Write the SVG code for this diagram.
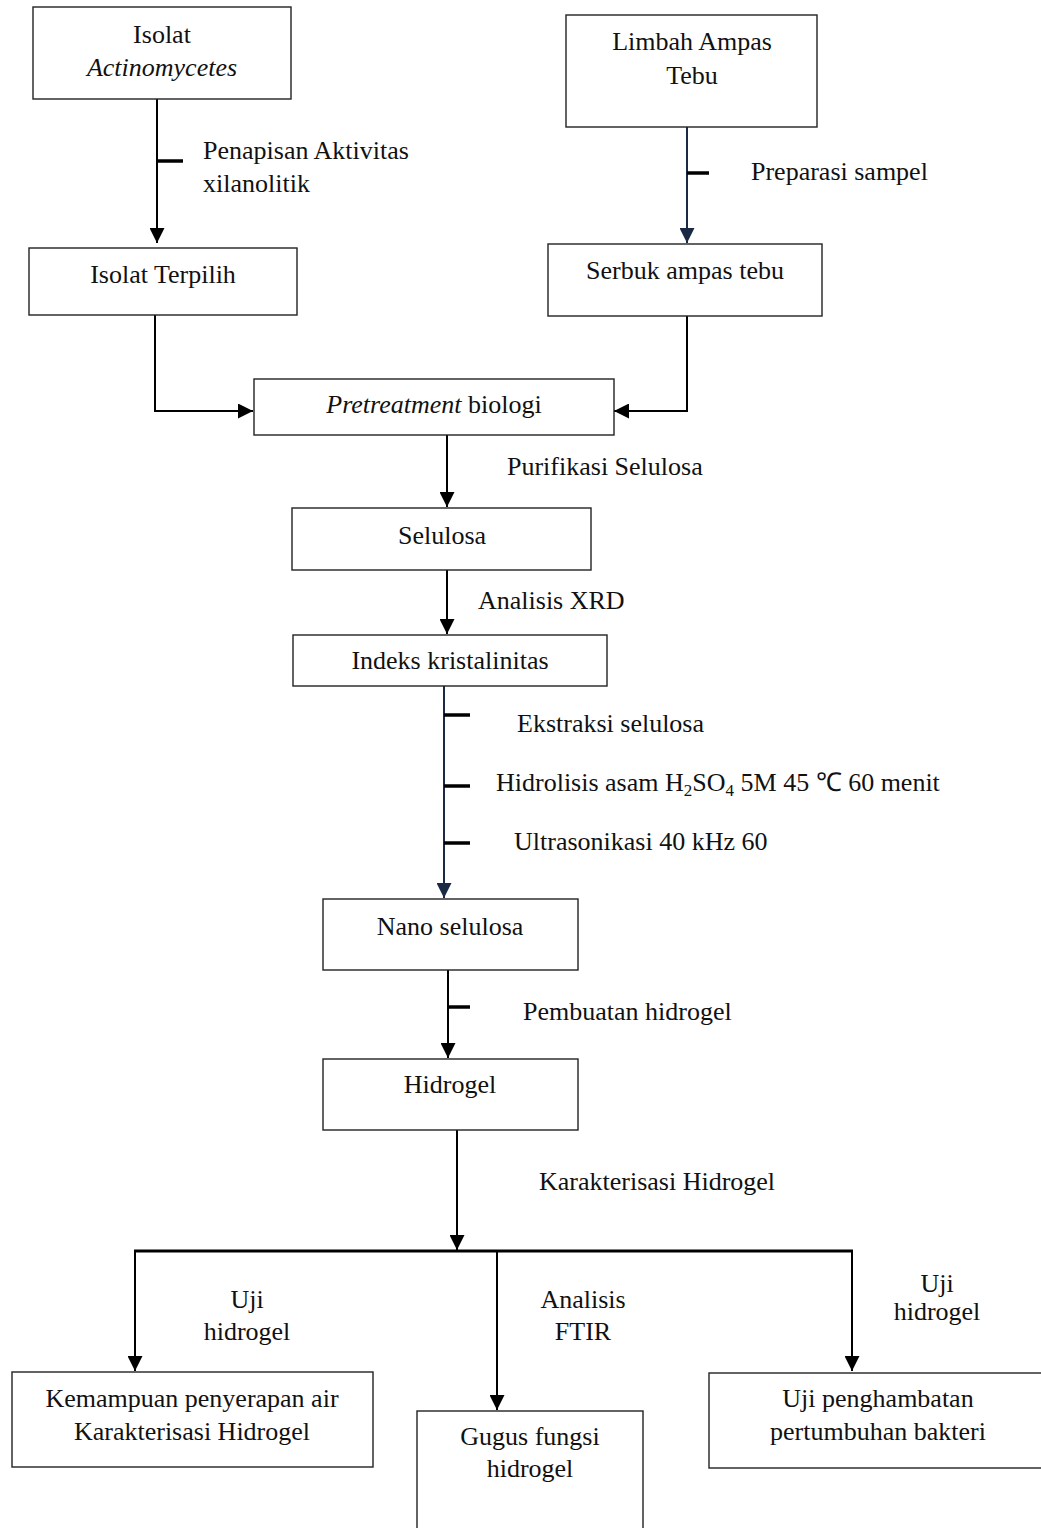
<svg xmlns="http://www.w3.org/2000/svg" width="1041" height="1528" viewBox="0 0 1041 1528">
<style>
.box{fill:#fff;stroke:#222;stroke-width:1.4}
.t{font-family:"Liberation Serif","Times New Roman",serif;font-size:26px;fill:#111}
.c{text-anchor:middle}
.ln{fill:none;stroke:#000;stroke-width:2}
.nv{fill:none;stroke:#1b2a44;stroke-width:2}
.tk{stroke:#000;stroke-width:3.5}
.ar{marker-end:url(#ah)}
.arn{marker-end:url(#ahn)}
</style>
<defs>
<marker id="ah" viewBox="0 0 15 15" refX="15" refY="7.5" markerWidth="15" markerHeight="15" markerUnits="userSpaceOnUse" orient="auto"><path d="M0,0 L15,7.5 L0,15 z" fill="#000"/></marker>
<marker id="ahn" viewBox="0 0 15 15" refX="15" refY="7.5" markerWidth="15" markerHeight="15" markerUnits="userSpaceOnUse" orient="auto"><path d="M0,0 L15,7.5 L0,15 z" fill="#1b2a44"/></marker>
</defs>
<rect width="1041" height="1528" fill="#fff"/>
<g id="connectors">
<line class="ln ar" x1="157" y1="99" x2="157" y2="243"/>
<line class="tk" x1="157" y1="161" x2="183" y2="161"/>
<line class="nv arn" x1="687" y1="127" x2="687" y2="243"/>
<line class="tk" x1="687" y1="173" x2="709" y2="173"/>
<polyline class="ln ar" points="155,315 155,411 253,411"/>
<polyline class="ln ar" points="687,316 687,411 614,411"/>
<line class="ln ar" x1="447" y1="435" x2="447" y2="507"/>
<line class="ln ar" x1="447" y1="570" x2="447" y2="634"/>
<line class="nv arn" x1="444" y1="686" x2="444" y2="898"/>
<line class="tk" x1="444" y1="715" x2="470" y2="715"/>
<line class="tk" x1="444" y1="786" x2="470" y2="786"/>
<line class="tk" x1="444" y1="843" x2="470" y2="843"/>
<line class="ln ar" x1="448" y1="970" x2="448" y2="1058"/>
<line class="tk" x1="448" y1="1007" x2="470" y2="1007"/>
<line class="ln ar" x1="457" y1="1130" x2="457" y2="1250"/>
<line x1="134" y1="1251" x2="853" y2="1251" stroke="#000" stroke-width="3"/>
<line class="ln ar" x1="135" y1="1251" x2="135" y2="1371"/>
<line class="ln ar" x1="497" y1="1252" x2="497" y2="1410"/>
<line class="ln ar" x1="852" y1="1251" x2="852" y2="1371"/>
</g>
<g id="labels">
<text class="t" x="203" y="159">Penapisan Aktivitas</text>
<text class="t" x="203" y="192">xilanolitik</text>
<text class="t" x="751" y="180">Preparasi sampel</text>
<text class="t" x="507" y="475">Purifikasi Selulosa</text>
<text class="t" x="478" y="609">Analisis XRD</text>
<text class="t" x="517" y="732">Ekstraksi selulosa</text>
<text class="t" x="496" y="791">Hidrolisis asam H<tspan font-size="17" dy="5">2</tspan><tspan dy="-5">SO</tspan><tspan font-size="17" dy="5">4</tspan><tspan dy="-5"> 5M 45 ℃ 60 menit</tspan></text>
<text class="t" x="514" y="850">Ultrasonikasi 40 kHz 60</text>
<text class="t" x="523" y="1020">Pembuatan hidrogel</text>
<text class="t" x="539" y="1190">Karakterisasi Hidrogel</text>
<text class="t c" x="247" y="1308">Uji</text>
<text class="t c" x="247" y="1340">hidrogel</text>
<text class="t c" x="583" y="1308">Analisis</text>
<text class="t c" x="583" y="1340">FTIR</text>
<text class="t c" x="937" y="1292">Uji</text>
<text class="t c" x="937" y="1320">hidrogel</text>
</g>
<g id="n1"><rect class="box" x="33" y="7" width="258" height="92"/><text class="t c" x="162" y="43">Isolat</text><text class="t c" x="162" y="76" font-style="italic">Actinomycetes</text></g>
<g id="n2"><rect class="box" x="29" y="248" width="268" height="67"/><text class="t c" x="163" y="283">Isolat Terpilih</text></g>
<g id="n3"><rect class="box" x="566" y="15" width="251" height="112"/><text class="t c" x="692" y="50">Limbah Ampas</text><text class="t c" x="692" y="84">Tebu</text></g>
<g id="n4"><rect class="box" x="548" y="244" width="274" height="72"/><text class="t c" x="685" y="279">Serbuk ampas tebu</text></g>
<g id="n5"><rect class="box" x="254" y="379" width="360" height="56"/><text class="t c" x="434" y="413"><tspan font-style="italic">Pretreatment</tspan> biologi</text></g>
<g id="n6"><rect class="box" x="292" y="508" width="299" height="62"/><text class="t c" x="442" y="544">Selulosa</text></g>
<g id="n7"><rect class="box" x="293" y="635" width="314" height="51"/><text class="t c" x="450" y="669">Indeks kristalinitas</text></g>
<g id="n8"><rect class="box" x="323" y="899" width="255" height="71"/><text class="t c" x="450" y="935">Nano selulosa</text></g>
<g id="n9"><rect class="box" x="323" y="1059" width="255" height="71"/><text class="t c" x="450" y="1093">Hidrogel</text></g>
<g id="n10"><rect class="box" x="12" y="1372" width="361" height="95"/><text class="t c" x="192" y="1407">Kemampuan penyerapan air</text><text class="t c" x="192" y="1440">Karakterisasi Hidrogel</text></g>
<g id="n11"><rect class="box" x="417" y="1411" width="226" height="140"/><text class="t c" x="530" y="1445">Gugus fungsi</text><text class="t c" x="530" y="1477">hidrogel</text></g>
<g id="n12"><rect class="box" x="709" y="1373" width="338" height="95"/><text class="t c" x="878" y="1407">Uji penghambatan</text><text class="t c" x="878" y="1440">pertumbuhan bakteri</text></g>
</svg>
